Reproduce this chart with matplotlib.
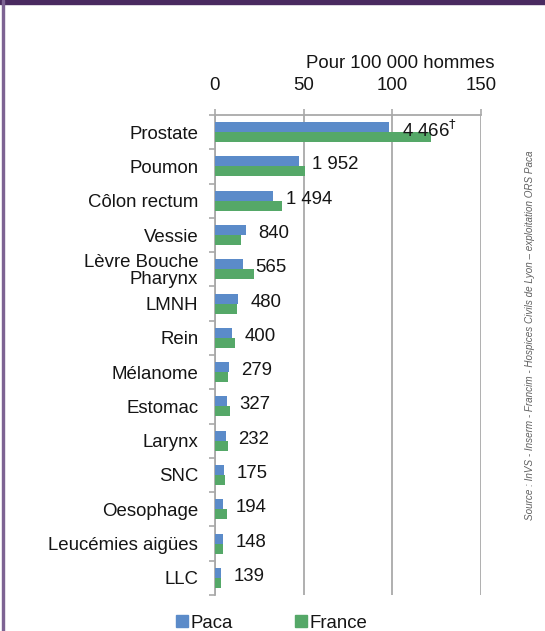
import numpy as np
import matplotlib
matplotlib.use('Agg')
import matplotlib.pyplot as plt
from matplotlib.lines import Line2D
from matplotlib.patches import Rectangle

plt.rcParams['font.family'] = ['Liberation Sans', 'DejaVu Sans']

# incidence rates per 100 000 men
localisations = ['Prostate', 'Poumon', 'Côlon rectum', 'Vessie', 'Lèvre Bouche\nPharynx',
                 'LMNH', 'Rein', 'Mélanome', 'Estomac', 'Larynx', 'SNC', 'Oesophage',
                 'Leucémies aigües', 'LLC']
paca = [98.3, 47.5, 32.8, 17.3, 15.6, 12.8, 9.8, 7.9, 6.6, 6.0, 5.3, 4.7, 4.7, 3.2]
france = [122.0, 50.8, 37.9, 14.5, 22.0, 12.2, 11.3, 7.5, 8.5, 7.2, 5.6, 6.6, 4.3, 3.6]
cas = ['4 466$^{\\dagger}$', '1 952', '1 494', '840', '565', '480', '400', '279', '327',
       '232', '175', '194', '148', '139']
xticks = [0, 50, 100, 150]

col_paca = '#5b8bc9'
col_france = '#55a868'
grid_col = '#a9a9a9'
txt_col = '#151515'
fs = 13.4

fig = plt.figure(figsize=(5.45, 6.31), dpi=100)
ax = fig.add_axes([215/545, 1-595/631, 266/545, 480/631])

y = np.arange(len(localisations))
h = 0.29
ax.barh(y - h/2, paca, height=h, color=col_paca, zorder=3)
ax.barh(y + h/2, france, height=h, color=col_france, zorder=3)

for yi, v, lab in zip(y, paca, cas):
    ax.annotate(lab, (v, yi - h/2), xytext=(9, -2.5), textcoords='offset points',
                ha='left', va='center', fontsize=fs, color=txt_col, zorder=4)

ax.set_xlim(0, 150)
ax.set_ylim(len(localisations) - 0.5, -0.5)
ax.xaxis.tick_top()
ax.set_xticks(xticks)
ax.set_xticklabels([str(t) for t in xticks], fontsize=fs, color=txt_col)
ax.tick_params(axis='x', direction='out', length=4, width=1.2, color=grid_col, pad=11)
ax.grid(axis='x', color=grid_col, linewidth=1.3, zorder=0)

ax.set_yticks(y)
ax.set_yticklabels(localisations, fontsize=fs, color=txt_col, linespacing=0.95)
ax.set_yticks(np.arange(len(localisations) + 1) - 0.5, minor=True)
ax.tick_params(axis='y', which='major', length=0, pad=12)
ax.tick_params(axis='y', which='minor', direction='out', length=4, width=1.2, color=grid_col)

for s in ['bottom', 'right']:
    ax.spines[s].set_visible(False)
for s in ['top', 'left']:
    ax.spines[s].set_color(grid_col)
    ax.spines[s].set_linewidth(1.3)

fig.text(495/545, 1-64/631, 'Pour 100 000 hommes', ha='right', va='center',
         fontsize=fs, color=txt_col)

fig.text(530/545, 1-335/631,
         'Source : InVS - Inserm - Francim - Hospices Civils de Lyon \u2013 exploitation ORS Paca',
         rotation=90, ha='center', va='center', fontsize=7.1, style='italic', color='#606060')

handles = [Line2D([], [], marker='s', linestyle='none', markersize=8, color=col_paca),
           Line2D([], [], marker='s', linestyle='none', markersize=8, color=col_france)]
fig.legend(handles, ['Paca', 'France'], loc='center', bbox_to_anchor=(272/545, 1-623/631),
           ncol=2, frameon=False, fontsize=fs, handlelength=0.6, handletextpad=0.15,
           columnspacing=3.4, borderpad=0, labelcolor=txt_col)

# purple frame of the original page
fig.add_artist(Rectangle((0, 1-3.5/631), 1, 3.5/631, transform=fig.transFigure,
                         color='#4a2a60', zorder=10))
fig.add_artist(Rectangle((1.5/545, 0), 2.5/545, 1, transform=fig.transFigure,
                         color='#7d6393', zorder=10))

fig.savefig('out.png', dpi=100)
